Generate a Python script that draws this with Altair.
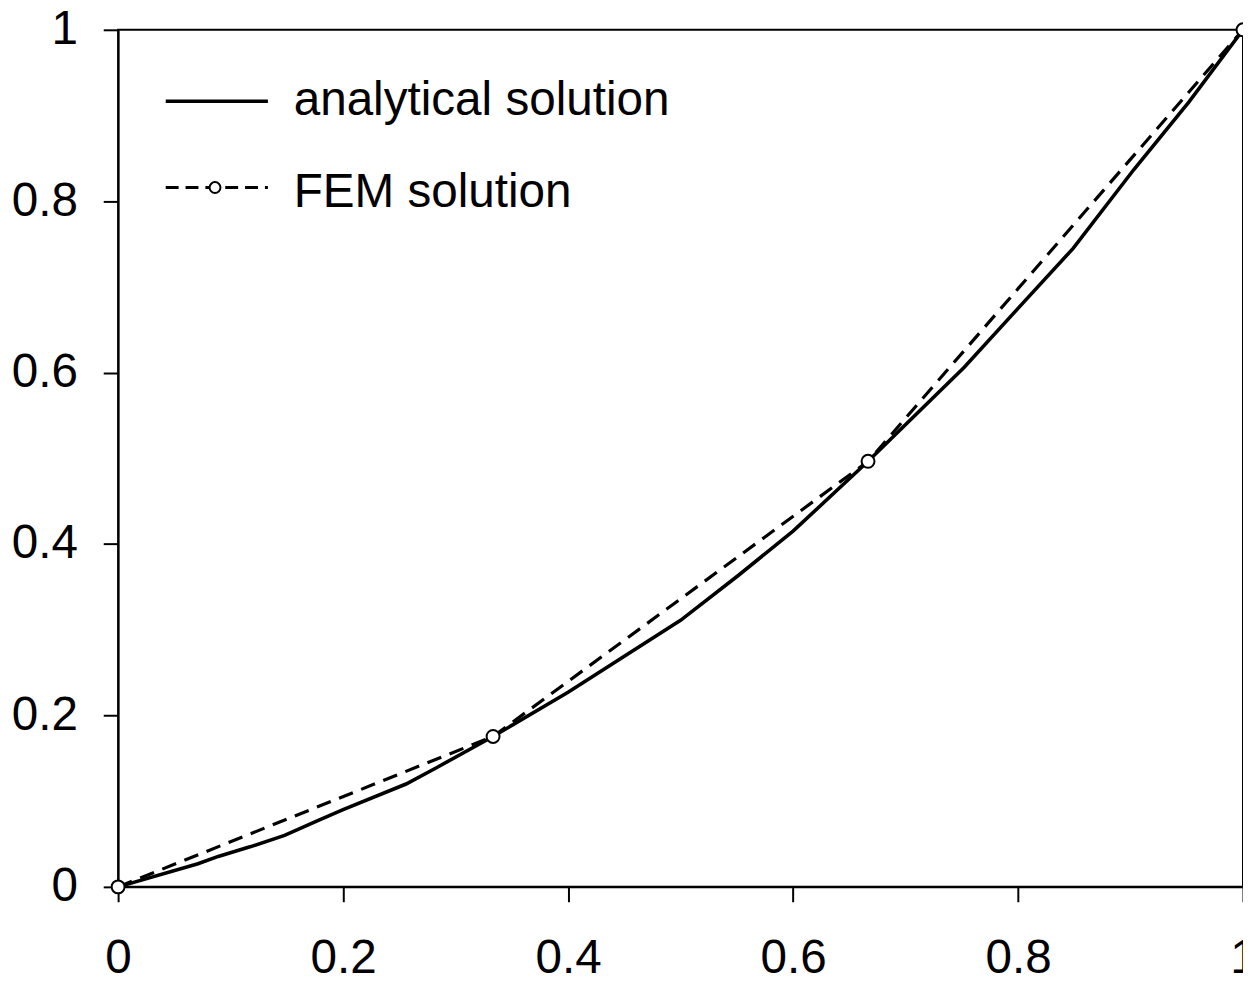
import altair as alt
import pandas as pd

# ---- data ----
x_analytical = [0.0, 0.071, 0.089, 0.118, 0.148, 0.177, 0.2, 0.256, 0.283, 0.3333,
                0.4, 0.5, 0.551, 0.6, 0.6667, 0.752, 0.8, 0.849, 0.903, 0.952, 1.0]
y_analytical = [0.0, 0.027, 0.0355, 0.047, 0.060, 0.077, 0.090, 0.120, 0.139, 0.1755,
                0.227, 0.311, 0.363, 0.415, 0.4965, 0.606, 0.675, 0.745, 0.837, 0.916, 1.0]

x_fem = [0.0, 1 / 3, 2 / 3, 1.0]
y_fem = [0.0, 0.1755, 0.4965, 1.0]

x_ticks = [0, 0.2, 0.4, 0.6, 0.8, 1]
y_ticks = [0, 0.2, 0.4, 0.6, 0.8, 1]

legend_labels = ["analytical solution", "FEM solution"]

FONT = "Liberation Sans"
FS = 48

df_a = pd.DataFrame({"x": x_analytical, "y": y_analytical})
df_f = pd.DataFrame({"x": x_fem, "y": y_fem})

xscale = alt.Scale(domain=[0, 1], nice=False, zero=False)
yscale = alt.Scale(domain=[0, 1], nice=False, zero=False)

xaxis = alt.Axis(values=x_ticks, format="~g", title=None, grid=False,
                 labelFont=FONT, labelFontSize=FS, labelColor="black",
                 labelPadding=33, tickSize=15, tickWidth=2, tickColor="black",
                 domainColor="black", domainWidth=2, labelFlush=False,
                 labelOverlap=False)
yaxis = alt.Axis(values=y_ticks, format="~g", title=None, grid=False,
                 labelFont=FONT, labelFontSize=FS, labelColor="black",
                 labelPadding=26, tickSize=15, tickWidth=2, tickColor="black",
                 domainColor="black", domainWidth=2, labelFlush=False,
                 labelOverlap=False)

analytical = alt.Chart(df_a).mark_line(color="black", strokeWidth=3.6).encode(
    x=alt.X("x:Q", scale=xscale, axis=xaxis),
    y=alt.Y("y:Q", scale=yscale, axis=yaxis),
)

fem_line = alt.Chart(df_f).mark_line(color="black", strokeWidth=3.2,
                                     strokeDash=[15, 9]).encode(
    x=alt.X("x:Q", scale=xscale),
    y=alt.Y("y:Q", scale=yscale),
)

fem_pts = alt.Chart(df_f).mark_point(shape="circle", filled=True, fill="white",
                                     stroke="black", strokeWidth=2, size=170,
                                     opacity=1).encode(
    x=alt.X("x:Q", scale=xscale),
    y=alt.Y("y:Q", scale=yscale),
)

# ---- hand-made legend ----
one = pd.DataFrame({"k": [0]})
leg_solid = alt.Chart(one).mark_rule(color="black", strokeWidth=3.6).encode(
    x=alt.value(48), x2=alt.value(151), y=alt.value(72))
leg_dash = alt.Chart(one).mark_rule(color="black", strokeWidth=3.2,
                                    strokeDash=[13, 7]).encode(
    x=alt.value(48), x2=alt.value(151), y=alt.value(159))
leg_pt = alt.Chart(one).mark_point(shape="circle", filled=True, fill="white",
                                   stroke="black", strokeWidth=2, size=120,
                                   opacity=1).encode(
    x=alt.value(97.7), y=alt.value(159))

leg_df = pd.DataFrame({"label": legend_labels, "pos": [0, 1]})
leg_text1 = alt.Chart(leg_df.iloc[[0]]).mark_text(
    align="left", baseline="alphabetic", font=FONT, fontSize=FS, color="black"
).encode(x=alt.value(177), y=alt.value(86), text="label:N")
leg_text2 = alt.Chart(leg_df.iloc[[1]]).mark_text(
    align="left", baseline="alphabetic", font=FONT, fontSize=FS, color="black"
).encode(x=alt.value(177), y=alt.value(179), text="label:N")

chart = alt.layer(
    analytical, fem_line, fem_pts,
    leg_solid, leg_dash, leg_pt, leg_text1, leg_text2
).properties(
    width=1134, height=864,
    autosize=alt.AutoSizeParams(type="none"),
    padding={"left": 111, "top": 18, "right": 0, "bottom": 100},
    background="white",
).configure_view(
    stroke="black", strokeWidth=2
)

chart.save("out.html", embed_options={"renderer": "svg", "actions": False})
